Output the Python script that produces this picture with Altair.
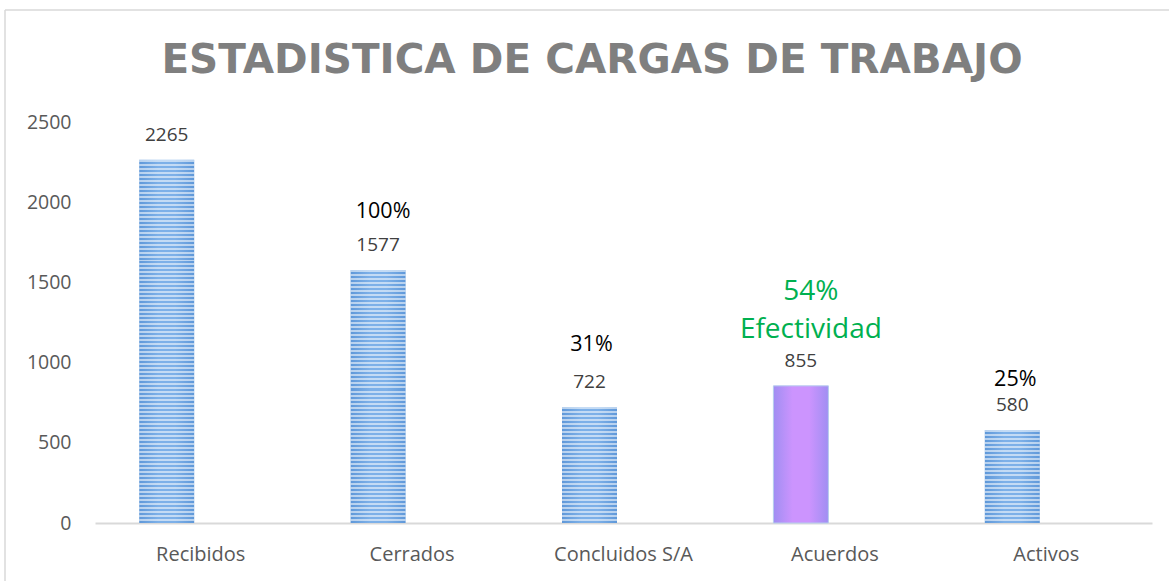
import altair as alt
import pandas as pd

# ---- data ----
categories = ["Recibidos", "Cerrados", "Concluidos S/A", "Acuerdos", "Activos"]
values = [2265, 1577, 722, 855, 580]
pct_categories = ["Cerrados", "Concluidos S/A", "Acuerdos", "Activos"]
pct_labels = ["100%", "31%", "54%", "25%"]
note_category = "Acuerdos"
note_text = "Efectividad"
highlight = "Acuerdos"
y_ticks = [0, 500, 1000, 1500, 2000, 2500]
title_text = "ESTADISTICA DE CARGAS DE TRABAJO"

df = pd.DataFrame({"cat": categories, "val": values})
pct_df = pd.DataFrame({"cat": pct_categories, "pct": pct_labels})
pct_df = pct_df.merge(df, on="cat")

# ---- layout / style ----
W, H = 1057, 401
YMAX = 2500
FONT = "Open Sans"
BAR_W = 55
BAR_DX = -34

x_enc = alt.X(
    "cat:N",
    sort=categories,
    scale=alt.Scale(paddingInner=0, paddingOuter=0),
    axis=alt.Axis(
        title=None, labelAngle=0, ticks=False, domainColor="#d9d9d9", domainWidth=2,
        labelFont=FONT, labelFontSize=20, labelColor="#595959", labelPadding=21,
    ),
)
y_enc = alt.Y(
    "val:Q",
    scale=alt.Scale(domain=[0, YMAX], nice=False),
    axis=alt.Axis(
        title=None, values=y_ticks, format="d", domain=False, ticks=False, grid=False,
        labelFont=FONT, labelFontSize=19.5, labelColor="#595959", labelPadding=24,
    ),
)


def hgrad(edge, center):
    return alt.Gradient(
        gradient="linear", x1=0, y1=0, x2=1, y2=0,
        stops=[
            alt.GradientStop(offset=0, color=edge),
            alt.GradientStop(offset=0.35, color=center),
            alt.GradientStop(offset=0.65, color=center),
            alt.GradientStop(offset=1, color=edge),
        ],
    )


def stripes(v, period=4.0):
    px = v / YMAX * H
    n = max(1, round(px / period))
    light = "rgba(255,255,255,0.55)"
    clear = "rgba(255,255,255,0)"
    stops = []
    for i in range(n):
        a, m, b = i / n, (i + 0.5) / n, (i + 1) / n
        stops += [
            alt.GradientStop(offset=a, color=light),
            alt.GradientStop(offset=m, color=light),
            alt.GradientStop(offset=m, color=clear),
            alt.GradientStop(offset=b, color=clear),
        ]
    return alt.Gradient(gradient="linear", x1=0, y1=0, x2=0, y2=1, stops=stops)


base = alt.Chart(df).encode(x=x_enc, y=y_enc)
layers = []

for c, v in zip(categories, values):
    sel = base.transform_filter(alt.datum.cat == c)
    if c == highlight:
        layers.append(
            sel.mark_bar(width=BAR_W, xOffset=BAR_DX, color=hgrad("#a08ef2", "#cc94fe"),
                         stroke="#b6cdee", strokeWidth=1)
        )
    else:
        layers.append(sel.mark_bar(width=BAR_W, xOffset=BAR_DX, color=hgrad("#5f98d9", "#7db0e8")))
        layers.append(sel.mark_bar(width=BAR_W, xOffset=BAR_DX, color=stripes(v)))

# value labels
layers.append(
    base.mark_text(font=FONT, fontSize=19, color="#404040", dy=-25, xOffset=BAR_DX, baseline="middle")
    .encode(text="val:Q")
)

# percent annotations
pct_dy = {"Cerrados": -58, "Concluidos S/A": -62, "Acuerdos": -94, "Activos": -50}
pct_dx = {"Cerrados": -29, "Concluidos S/A": -32, "Acuerdos": -24, "Activos": -31}
for c in pct_categories:
    green = c == note_category
    layers.append(
        alt.Chart(pct_df).transform_filter(alt.datum.cat == c)
        .mark_text(font=FONT, fontSize=28 if green else 21.5,
                   color="#00b050" if green else "#000000",
                   dy=pct_dy[c], xOffset=pct_dx[c], baseline="middle")
        .encode(x=x_enc, y=y_enc, text="pct:N")
    )

note_df = pd.DataFrame({"cat": [note_category], "note": [note_text]}).merge(df, on="cat")
layers.append(
    alt.Chart(note_df)
    .mark_text(font=FONT, fontSize=28, color="#00b050", dy=-56, xOffset=-24, baseline="middle")
    .encode(x=x_enc, y=y_enc, text="note:N")
)

# title as a text mark
title_df = pd.DataFrame({"t": [title_text]})
layers.append(
    alt.Chart(title_df)
    .mark_text(font="DejaVu Sans", fontSize=40.5, fontWeight="bold", color="#7f7f7f",
               align="center", baseline="alphabetic")
    .encode(x=alt.value(497), y=alt.value(-49), text="t:N")
)

# outer frame (top and left edges visible)
frame_df = pd.DataFrame({"k": [0]})
layers.append(
    alt.Chart(frame_df).mark_rule(color="#d9d9d9", strokeWidth=1.5)
    .encode(x=alt.value(-90), x2=alt.value(1074), y=alt.value(-112))
)
layers.append(
    alt.Chart(frame_df).mark_rule(color="#d9d9d9", strokeWidth=1.5)
    .encode(x=alt.value(-90), y=alt.value(-112), y2=alt.value(459))
)

chart = (
    alt.layer(*layers)
    .properties(
        width=W, height=H,
        background="white",
        autosize=alt.AutoSizeParams(type="none"),
        padding={"left": 95, "top": 122, "right": 17, "bottom": 58},
    )
    .configure_view(stroke="transparent", strokeWidth=0)
)

chart.save("out.html", embed_options={"renderer": "svg", "actions": False})
